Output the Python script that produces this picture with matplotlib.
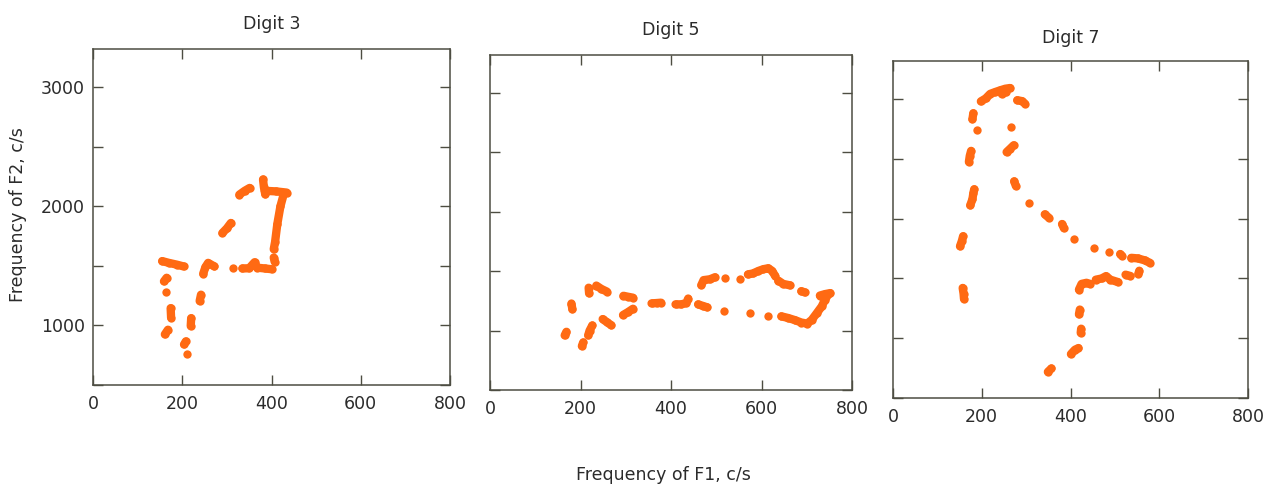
import matplotlib
matplotlib.use("Agg")
import matplotlib.pyplot as plt
from matplotlib.ticker import MultipleLocator

# ---- data: formant trajectories, each digit = list of strokes (F1 values, F2 values) ----
titles = ["Digit 3", "Digit 5", "Digit 7"]

digit3_f1 = [[155, 170, 188, 203], [165, 159], [164], [174, 175], [168, 161], [208, 204], [211],
             [220, 219], [242, 239], [247, 252, 258, 272], [313],
             [335, 350, 362, 368, 385, 400], [405, 407], [405, 408, 413, 420, 428],
             [381, 383, 386], [385, 410, 434], [328, 340, 351], [309, 300, 290]]
digit3_f2 = [[1540, 1525, 1510, 1495], [1400, 1370], [1282], [1145, 1065], [964, 925], [866, 840], [760],
             [1061, 995], [1258, 1205], [1435, 1490, 1525, 1495], [1478],
             [1478, 1480, 1530, 1485, 1478, 1472], [1570, 1535], [1640, 1700, 1850, 2000, 2110],
             [2225, 2160, 2100], [2130, 2125, 2115], [2098, 2130, 2154], [1860, 1815, 1776]]

digit5_f1 = [[169, 165], [206, 203], [180, 182], [226, 220, 217], [218, 219], [235, 246, 258],
             [249, 258, 268], [295, 305, 316], [294, 305, 316], [357, 368, 378],
             [410, 423, 434, 438], [460, 471, 480], [517], [574], [615],
             [644, 659, 674, 688, 701, 711, 722, 733, 740, 748], [729, 740, 752],
             [467, 472, 486, 497], [519], [552], [570, 581, 593, 604, 615, 623, 630],
             [637, 648, 663], [688, 696]]
digit5_f2 = [[990, 960], [900, 870], [1228, 1180], [1043, 999, 960], [1361, 1314], [1379, 1351, 1329],
             [1097, 1072, 1045], [1293, 1285, 1277], [1131, 1156, 1184], [1229, 1232, 1235],
             [1221, 1221, 1233, 1270], [1221, 1207, 1196], [1162], [1146], [1126],
             [1120, 1106, 1088, 1068, 1059, 1090, 1146, 1203, 1258, 1307], [1295, 1307, 1316],
             [1383, 1425, 1432, 1449], [1442], [1436], [1473, 1481, 1502, 1517, 1525, 1504, 1462],
             [1421, 1393, 1381], [1332, 1321]]

digit7_f1 = [[157, 159, 160], [151, 155, 158], [174, 179, 181, 183], [171, 173, 176], [190],
             [179, 181], [198, 209, 219, 230, 241, 253, 264], [245, 255], [280, 291, 297], [265],
             [256, 264, 272], [273, 277], [307], [342, 351], [381, 385], [408], [452], [487],
             [512, 516], [537, 552, 567, 579], [555, 553], [524, 535],
             [457, 470, 480, 490, 507], [419, 425, 436, 444], [421, 419], [424, 423],
             [401, 410, 418], [349, 357]]
digit7_f2 = [[1421, 1374, 1329], [1770, 1812, 1854], [2112, 2163, 2213, 2247], [2476, 2526, 2568], [2744],
             [2833, 2883], [2982, 3007, 3045, 3060, 3074, 3088, 3094], [3045, 3060], [2992, 2984, 2964], [2768],
             [2558, 2586, 2615], [2313, 2274], [2133], [2037, 2009], [1956, 1922], [1831], [1755], [1724],
             [1705, 1690], [1673, 1668, 1652, 1631], [1565, 1540], [1532, 1521],
             [1490, 1500, 1520, 1490, 1470], [1407, 1455, 1464, 1455], [1240, 1200], [1080, 1045],
             [868, 904, 918], [719, 747]]

x_ticks = [0, 200, 400, 600, 800]
y_ticks = [1000, 2000, 3000]

# ---- style ----
ORANGE = "#FF6A13"
SPINE = "#4d4d42"
TEXT = "#2b2b2b"
plt.rcParams["font.family"] = ["DejaVu Sans"]

fig = plt.figure(figsize=(12.63, 4.86), dpi=100)
W, H = 1263.0, 486.0
# panel rects in pixels: left, right, top, bottom
rects = [(93, 450, 49, 385), (490, 852, 55, 390), (893, 1248, 61, 398)]
title_y = [24, 30, 38]
data = [(digit3_f1, digit3_f2), (digit5_f1, digit5_f2), (digit7_f1, digit7_f2)]

for i, ((l, r, t, b), (f1s, f2s)) in enumerate(zip(rects, data)):
    ax = fig.add_axes([l / W, (H - b) / H, (r - l) / W, (b - t) / H])
    for xs, ys in zip(f1s, f2s):
        ax.plot(xs, ys, color=ORANGE, lw=6.0, solid_capstyle="round", solid_joinstyle="round",
                marker="o", ms=6.0, mew=0, mfc=ORANGE)
    ax.set_xlim(0, 800)
    ax.set_ylim(500, 3320)
    ax.set_xticks(x_ticks)
    ax.set_yticks(y_ticks)
    ax.yaxis.set_minor_locator(MultipleLocator(500))
    ax.tick_params(which="both", direction="in", length=7, width=1.0, color=SPINE,
                   top=True, right=True, labelsize=12.5, labelcolor=TEXT)
    ax.tick_params(axis="x", pad=7)
    ax.tick_params(axis="y", pad=6)
    if i > 0:
        ax.tick_params(axis="y", labelleft=False)
    for s in ax.spines.values():
        s.set_color(SPINE)
        s.set_linewidth(1.1)
    fig.text(((l + r) / 2) / W, 1 - title_y[i] / H, titles[i], ha="center", va="center",
             fontsize=12.5, color=TEXT)

fig.text(663 / W, 1 - 475 / H, "Frequency of F1, c/s", ha="center", va="center",
         fontsize=12.5, color=TEXT)
fig.text(18 / W, 1 - 215 / H, "Frequency of F2, c/s", ha="center", va="center",
         rotation=90, fontsize=12.5, color=TEXT)

fig.savefig("out.png", dpi=100, facecolor="white")
